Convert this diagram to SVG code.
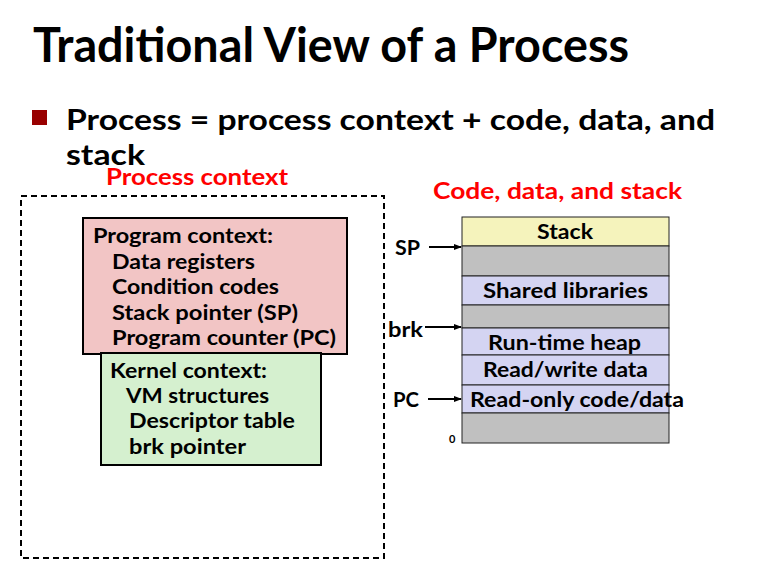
<svg xmlns="http://www.w3.org/2000/svg" width="779" height="584" viewBox="0 0 779 584">
<defs>
<style>
text{font-family:Lato,"Open Sans","Liberation Sans",sans-serif;font-weight:bold;fill:#000}
.t{font-size:48px}
.b{font-size:29px}
.red{font-size:22px;fill:#ff0000}
.n{font-size:21px}
.m{font-size:21px}
.box{stroke:#000;stroke-width:2}
.seg{stroke:#222;stroke-width:1}
.gray{fill:#c0c0c0}
.lav{fill:#d4d4f2}
.arr{stroke:#000;stroke-width:2;fill:none;marker-end:url(#ah)}
</style>
<marker id="ah" markerWidth="8" markerHeight="8" refX="7" refY="4" orient="auto" markerUnits="userSpaceOnUse">
<path d="M0,1 L8,4 L0,7 Z" fill="#000"/>
</marker>
</defs>
<rect width="779" height="584" fill="#fff"/>

<g id="title">
<text class="t" x="33" y="62" textLength="596" lengthAdjust="spacingAndGlyphs">Traditional View of a Process</text>
</g>
<g id="bullet">
<rect x="32" y="110" width="15" height="15" fill="#990000"/>
<text class="b" x="66" y="130" textLength="649" lengthAdjust="spacingAndGlyphs">Process = process context + code, data, and</text>
<text class="b" x="66" y="165" textLength="79" lengthAdjust="spacingAndGlyphs">stack</text>
</g>

<g id="process-context">
<rect x="21" y="196" width="363" height="362" fill="none" stroke="#000" stroke-width="2" stroke-dasharray="6,4"/>
<text class="red" x="106" y="185" textLength="182" lengthAdjust="spacingAndGlyphs">Process context</text>
</g>

<g id="program-context">
<rect class="box" x="83" y="218" width="264" height="136" fill="#f2c5c5"/>
<text class="n" x="93" y="243" textLength="180" lengthAdjust="spacingAndGlyphs">Program context:</text>
<text class="n" x="112" y="269" textLength="143" lengthAdjust="spacingAndGlyphs">Data registers</text>
<text class="n" x="112" y="294" textLength="167" lengthAdjust="spacingAndGlyphs">Condition codes</text>
<text class="n" x="112" y="320" textLength="186" lengthAdjust="spacingAndGlyphs">Stack pointer (SP)</text>
<text class="n" x="112" y="345" textLength="224" lengthAdjust="spacingAndGlyphs">Program counter (PC)</text>
</g>

<g id="kernel-context">
<rect class="box" x="101" y="353" width="220" height="112" fill="#d5f0cf"/>
<text class="n" x="110" y="378" textLength="157" lengthAdjust="spacingAndGlyphs">Kernel context:</text>
<text class="n" x="126" y="403" textLength="143" lengthAdjust="spacingAndGlyphs">VM structures</text>
<text class="n" x="129" y="428" textLength="166" lengthAdjust="spacingAndGlyphs">Descriptor table</text>
<text class="n" x="129" y="454" textLength="117" lengthAdjust="spacingAndGlyphs">brk pointer</text>
</g>

<g id="code-data-stack">
<text class="red" x="433" y="199" textLength="249" lengthAdjust="spacingAndGlyphs">Code, data, and stack</text>
</g>

<g id="memory">
<rect class="seg" x="462" y="217" width="207" height="29" fill="#f5f3bc"/>
<rect class="seg gray" x="462" y="246" width="207" height="30"/>
<rect class="seg lav" x="462" y="276" width="207" height="29"/>
<rect class="seg gray" x="462" y="305" width="207" height="23"/>
<rect class="seg lav" x="462" y="328" width="207" height="27"/>
<rect class="seg lav" x="462" y="355" width="207" height="30"/>
<rect class="seg lav" x="462" y="385" width="207" height="28"/>
<rect class="seg gray" x="462" y="413" width="207" height="30"/>
<text class="m" x="537" y="239" textLength="56" lengthAdjust="spacingAndGlyphs">Stack</text>
<text class="m" x="483" y="298" textLength="165" lengthAdjust="spacingAndGlyphs">Shared libraries</text>
<text class="m" x="488" y="350" textLength="153" lengthAdjust="spacingAndGlyphs">Run-time heap</text>
<text class="m" x="483" y="377" textLength="165" lengthAdjust="spacingAndGlyphs">Read/write data</text>
<text class="m" x="470" y="407" textLength="214" lengthAdjust="spacingAndGlyphs">Read-only code/data</text>
</g>

<g id="labels">
<text class="m" x="395" y="255" textLength="25" lengthAdjust="spacingAndGlyphs">SP</text>
<text class="m" x="388" y="337" textLength="35" lengthAdjust="spacingAndGlyphs">brk</text>
<text class="m" x="393" y="407" textLength="26" lengthAdjust="spacingAndGlyphs">PC</text>
<text x="449" y="443" style="font-size:11px">0</text>
</g>

<g id="connectors">
<line class="arr" x1="429" y1="247" x2="461" y2="247"/>
<line class="arr" x1="425" y1="327" x2="461" y2="327"/>
<line class="arr" x1="428" y1="399" x2="461" y2="399"/>
</g>
</svg>
